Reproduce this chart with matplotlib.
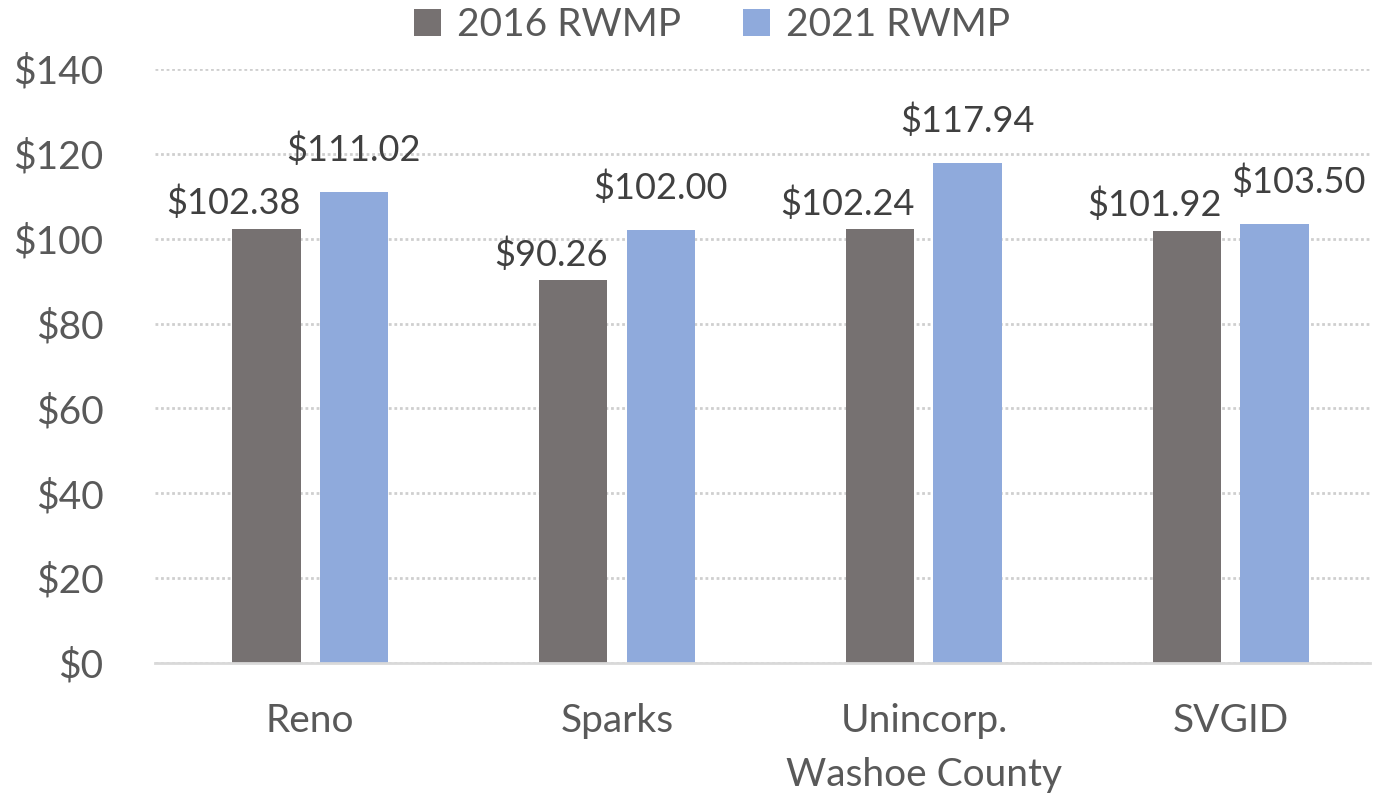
import matplotlib.pyplot as plt
import numpy as np

# values
areas = ['Reno', 'Sparks', 'Unincorp.\nWashoe County', 'SVGID']
rwmp2016 = [102.38, 90.26, 102.24, 101.92]
rwmp2021 = [111.02, 102.00, 117.94, 103.50]
yticks = [0, 20, 40, 60, 80, 100, 120, 140]

grey = '#767171'
blue = '#8FAADC'
txt = '#595959'
lbl = '#404040'

plt.rcParams['font.family'] = ['Lato', 'DejaVu Sans']

fig = plt.figure(figsize=(13.74, 7.97), dpi=100)
ax = fig.add_axes([155/1374, 1 - 663/797, (1370-155)/1374, (663-69)/797])

x = np.arange(len(areas))
w = 0.222
off = 0.142
b1 = ax.bar(x - off, rwmp2016, w, color=grey, label='2016 RWMP', zorder=3)
b2 = ax.bar(x + off, rwmp2021, w, color=blue, label='2021 RWMP', zorder=3)

# data labels: grey ones sit flush with the bar's right edge
for r, v in zip(b1, rwmp2016):
    ax.annotate('${:.2f}'.format(v), (r.get_x() + r.get_width(), v),
                xytext=(0, 6), textcoords='offset points',
                ha='right', va='bottom', fontsize=26, color=lbl)
shift = [0, 0, 0, 17]
for r, v, s in zip(b2, rwmp2021, shift):
    ax.annotate('${:.2f}'.format(v), (r.get_x() + r.get_width()/2, v),
                xytext=(s, 18), textcoords='offset points',
                ha='center', va='bottom', fontsize=26, color=lbl)

ax.set_ylim(0, 140)
ax.set_xlim(-0.505, 3.453)
ax.set_yticks(yticks)
ax.set_yticklabels(['${}'.format(t) for t in yticks])
ax.set_xticks(x)
ax.set_xticklabels(areas, linespacing=1.6)
ax.tick_params(axis='y', length=0, pad=37, labelsize=28, labelcolor=txt)
ax.tick_params(axis='x', length=0, pad=29, labelsize=28, labelcolor=txt)
for lab in ax.get_yticklabels():
    lab.set_horizontalalignment('right')

ax.grid(axis='y', color='#CFCFCF', linestyle=(0, (1, 1)), linewidth=2, zorder=0)
for sp in ['top', 'right', 'left']:
    ax.spines[sp].set_visible(False)
ax.spines['bottom'].set_color('#D9D9D9')
ax.spines['bottom'].set_linewidth(2)
ax.spines['bottom'].set_zorder(4)

fig.legend(loc='center', bbox_to_anchor=(712/1374, 1 - 25/797), ncol=2, frameon=False,
           fontsize=28, labelcolor=txt, handlelength=0.7, handleheight=0.7,
           handletextpad=0.4, columnspacing=1.6)

plt.savefig('out.png', dpi=100)
